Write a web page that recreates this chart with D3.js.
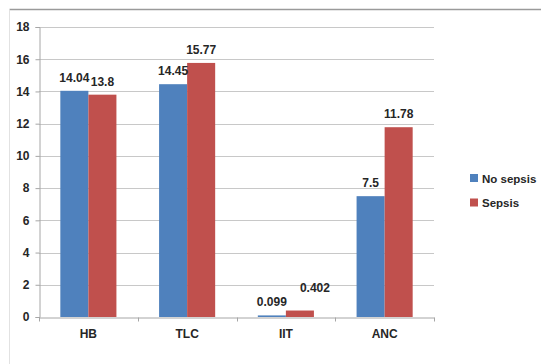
<!DOCTYPE html>
<html>
<head>
<meta charset="utf-8">
<script src="https://cdn.jsdelivr.net/npm/d3@7"></script>
<style>
  body { margin: 0; background: #fff; }
  svg { display: block; font-family: "Liberation Sans", Arial, sans-serif; }
</style>
</head>
<body>
<svg id="chart" width="541" height="364"></svg>
<script>
var categories = ["HB", "TLC", "IIT", "ANC"];
var seriesNames = ["No sepsis", "Sepsis"];
var noSepsis = [14.04, 14.45, 0.099, 7.5];
var sepsis = [13.8, 15.77, 0.402, 11.78];
var labelsNoSepsis = ["14.04", "14.45", "0.099", "7.5"];
var labelsSepsis = ["13.8", "15.77", "0.402", "11.78"];
var yTicks = [0, 2, 4, 6, 8, 10, 12, 14, 16, 18];

var colors = ["#4f81bd", "#c0504d"];

var svg = d3.select("#chart"),
  margin = { top: 27, left: 39, right: 107, bottom: 47 },
  width = 541,
  height = 364;

// outer chart frame (top and left edges visible)
svg.append("line").attr("x1", 9.5).attr("x2", width).attr("y1", 9.5).attr("y2", 9.5)
  .attr("stroke", "#9a9a9a").attr("stroke-width", 1.5);
svg.append("line").attr("x1", 9.5).attr("x2", 9.5).attr("y1", 9.5).attr("y2", height)
  .attr("stroke", "#e2e2e2").attr("stroke-width", 1);

var x = d3.scaleBand().domain(categories).range([margin.left, width - margin.right]);
var y = d3.scaleLinear().domain([0, 18]).range([height - margin.bottom, margin.top]);

var barW = x.bandwidth() * 0.284;
var groupOff = (x.bandwidth() - 2 * barW) / 2;

// gridlines
svg.append("g").selectAll("line").data(yTicks.slice(1)).enter().append("line")
  .attr("x1", margin.left).attr("x2", width - margin.right)
  .attr("y1", d => Math.round(y(d)) + 0.5).attr("y2", d => Math.round(y(d)) + 0.5)
  .attr("stroke", "#c8c8c8");

// y axis
var yAxis = svg.append("g").attr("transform", "translate(" + (margin.left + 0.5) + ",0)")
  .call(d3.axisLeft(y).tickValues(yTicks).tickSize(4).tickPadding(6));
yAxis.select(".domain").attr("stroke", "#a6a6a6");
yAxis.selectAll(".tick line").attr("stroke", "#a6a6a6");
yAxis.selectAll("text").attr("font-size", 12).attr("font-weight", "bold").attr("fill", "#262626")
  .attr("text-anchor", "end");

// bars
var rows = categories.map(function(c, i) {
  return { cat: c, vals: [noSepsis[i], sepsis[i]], labels: [labelsNoSepsis[i], labelsSepsis[i]] };
});

var groups = svg.append("g").selectAll("g").data(rows).enter().append("g")
  .attr("transform", d => "translate(" + (x(d.cat) + groupOff) + ",0)");

groups.selectAll("rect").data(d => d.vals).enter().append("rect")
  .attr("x", (d, i) => i * barW)
  .attr("y", d => y(d))
  .attr("width", barW)
  .attr("height", d => y(0) - y(d))
  .attr("fill", (d, i) => colors[i]);

// label nudges (layout only), keyed by label text
var nudge = { "0.402": [15, -10] };

groups.selectAll("text").data(d => d.labels.map((l, i) => ({ l: l, v: d.vals[i], i: i })))
  .enter().append("text")
  .attr("x", d => d.i * barW + barW / 2 + (nudge[d.l] ? nudge[d.l][0] : 0))
  .attr("y", d => y(d.v) - 9 + (nudge[d.l] ? nudge[d.l][1] : 0))
  .attr("text-anchor", "middle")
  .attr("font-size", 12).attr("font-weight", "bold").attr("fill", "#262626")
  .text(d => d.l);

// x axis
var xAxis = svg.append("g").attr("transform", "translate(0," + (Math.round(y(0)) + 0.5) + ")")
  .call(d3.axisBottom(x).tickSize(0).tickPadding(12));
xAxis.select(".domain").attr("stroke", "#a6a6a6");
xAxis.selectAll("text").attr("font-size", 12).attr("font-weight", "bold").attr("fill", "#262626");
xAxis.append("g").selectAll("line").data(d3.range(categories.length + 1)).enter().append("line")
  .attr("x1", i => Math.round(margin.left + i * x.step()) + 0.5)
  .attr("x2", i => Math.round(margin.left + i * x.step()) + 0.5)
  .attr("y1", 0).attr("y2", 4).attr("stroke", "#a6a6a6");

// legend
var legend = svg.append("g").selectAll("g").data(seriesNames).enter().append("g")
  .attr("transform", (d, i) => "translate(470," + (178 + i * 24.5) + ")");
legend.append("rect").attr("x", 0).attr("y", -4).attr("width", 8).attr("height", 8)
  .attr("fill", (d, i) => colors[i]);
legend.append("text").attr("x", 12).attr("y", 4.5)
  .attr("font-size", 11.5).attr("font-weight", "bold").attr("fill", "#262626")
  .text(d => d);
</script>
</body>
</html>
